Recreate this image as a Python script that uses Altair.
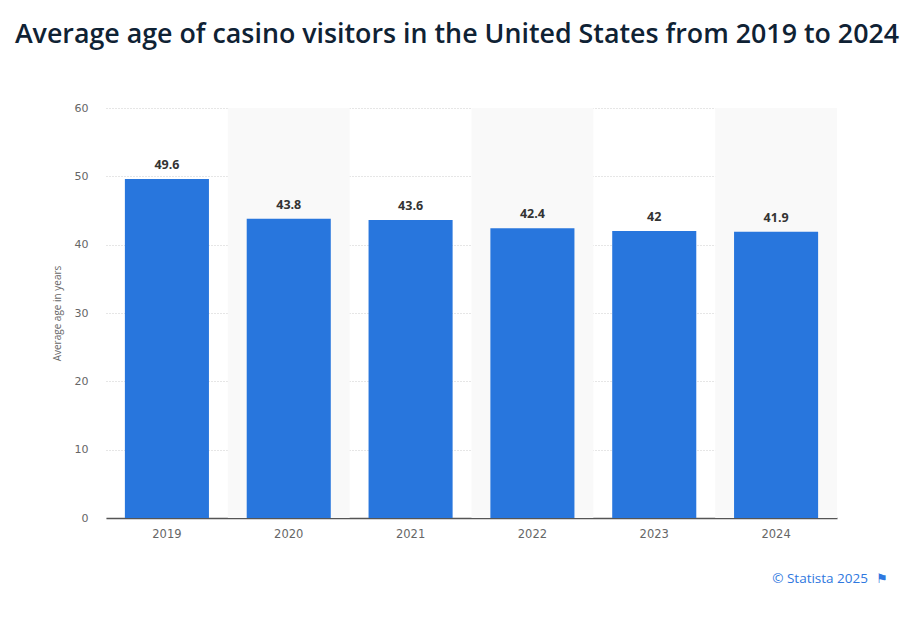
import altair as alt
import pandas as pd

years = ["2019", "2020", "2021", "2022", "2023", "2024"]
ages = [49.6, 43.8, 43.6, 42.4, 42.0, 41.9]
labels = ["49.6", "43.8", "43.6", "42.4", "42", "41.9"]
shaded = [False, True, False, True, False, True]

title_text = "Average age of casino visitors in the United States from 2019 to 2024"
y_title = "Average age in years"
source_text = "© Statista 2025"

df = pd.DataFrame({"year": years, "age": ages, "label": labels, "shaded": shaded})

FONT = "Open Sans"
LFONT = "DejaVu Sans"

x_enc = alt.X("year:N", sort=years,
              scale=alt.Scale(paddingInner=0.31, paddingOuter=0.155),
              axis=alt.Axis(title=None, labelAngle=0, labelFontSize=11.5, labelColor="#666666",
                            labelFont=LFONT, labelPadding=10, ticks=False,
                            domainColor="#555555", domainWidth=1.5, grid=False))
y_enc = alt.Y("age:Q", scale=alt.Scale(domain=[0, 60], nice=False),
              axis=alt.Axis(title=y_title, titleFontSize=10, titleFontWeight="normal",
                            titleColor="#666666", titleFont=FONT, titlePadding=12,
                            values=[0, 10, 20, 30, 40, 50, 60],
                            labelFontSize=11, labelColor="#666666", labelFont=LFONT,
                            labelPadding=18, ticks=False, domain=False,
                            grid=True, gridColor="#cccccc", gridDash=[1, 2], gridWidth=1))

bg = alt.Chart(df).transform_filter("datum.shaded").mark_rect(color="#f9f9f9").encode(
    x=alt.X("year:N", sort=years,
            scale=alt.Scale(domain=years, paddingInner=0, paddingOuter=0), axis=None),
)

bars = alt.Chart(df).mark_bar(color="#2876dd").encode(x=x_enc, y=y_enc)

text = alt.Chart(df).mark_text(baseline="bottom", dy=-7, fontSize=12.5, fontWeight="bold",
                               color="#333333", font=FONT).encode(
    x=alt.X("year:N", sort=years), y="age:Q", text="label:N")

fg = alt.layer(bars, text)

one = pd.DataFrame({"t": [title_text]})
title = alt.Chart(one).mark_text(align="center", baseline="alphabetic", fontSize=26.8,
                                 fontWeight=600, color="#0f2234", font=FONT).encode(
    x=alt.value(351), y=alt.value(-65), text="t:N")

src = pd.DataFrame({"t": [source_text]})
source = alt.Chart(src).mark_text(align="right", baseline="alphabetic", fontSize=13.5,
                                  color="#2f78e0", font=FONT).encode(
    x=alt.value(762), y=alt.value(475), text="t:N")
flag_df = pd.DataFrame({"t": ["⚑"]})
flag = alt.Chart(flag_df).mark_text(align="center", baseline="alphabetic", fontSize=13,
                                    color="#2f78e0", font="DejaVu Sans").encode(
    x=alt.value(776), y=alt.value(475), text="t:N")

chart = alt.layer(bg, fg, title, source, flag).resolve_scale(x="independent").properties(
    width=731, height=410,
    autosize=alt.AutoSizeParams(type="none"),
    padding={"left": 98, "top": 100, "right": 66, "bottom": 90},
).configure_view(stroke=None)

chart.save("out.html", embed_options={"renderer": "svg", "actions": False})
